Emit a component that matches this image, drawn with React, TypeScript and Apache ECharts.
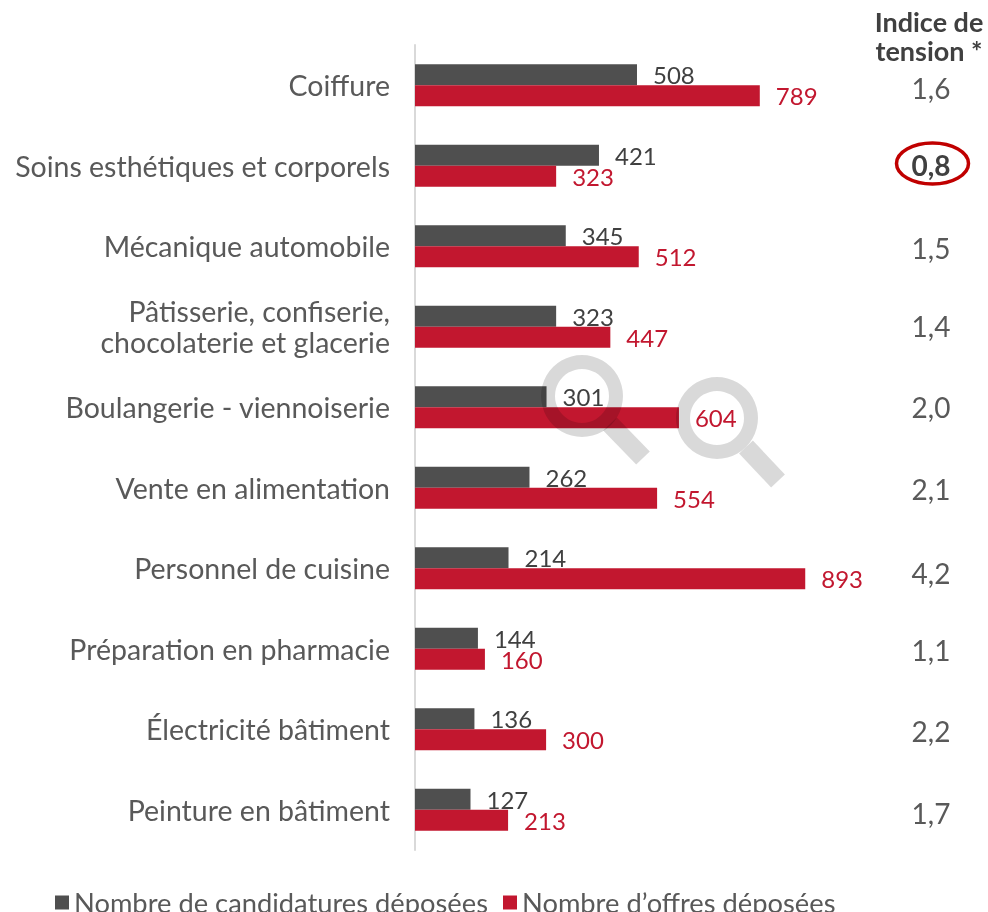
import React, { useEffect, useRef } from "react";
import * as echarts from "echarts";

const categories = [
  "Coiffure",
  "Soins esthétiques et corporels",
  "Mécanique automobile",
  "Pâtisserie, confiserie,\nchocolaterie et glacerie",
  "Boulangerie - viennoiserie",
  "Vente en alimentation",
  "Personnel de cuisine",
  "Préparation en pharmacie",
  "Électricité bâtiment",
  "Peinture en bâtiment",
];
const candidatures = [508, 421, 345, 323, 301, 262, 214, 144, 136, 127];
const offres = [789, 323, 512, 447, 604, 554, 893, 160, 300, 213];
const tension = ["1,6", "0,8", "1,5", "1,4", "2,0", "2,1", "4,2", "1,1", "2,2", "1,7"];
const tensionY = [88, 165, 248, 326, 407, 489, 573, 650, 731, 813];
const FONT = "Lato";
const GREY = "#595959";
const DARK = "#4F4F4F";
const RED = "#C2172F";

function magnifier(cx: number, cy: number, x1: number, y1: number, x2: number, y2: number) {
  const fill = "rgba(0,0,0,0.15)";
  return [
    { type: "ring", z: 20, silent: true, shape: { cx, cy, r: 41, r0: 27 }, style: { fill } },
    { type: "line", z: 20, silent: true, shape: { x1, y1, x2, y2 }, style: { stroke: fill, lineWidth: 19 } },
  ];
}

export default function App() {
  const ref = useRef<HTMLDivElement>(null);
  useEffect(() => {
    const chart = echarts.init(ref.current!, undefined, { renderer: "svg" });
    const label = (color: string) => ({
      show: true,
      position: "right" as const,
      distance: 16,
      color,
      fontFamily: FONT,
      fontSize: 24,
    });
    chart.setOption({
      animation: false,
      grid: { left: 415, top: 45, width: 437, height: 805, containLabel: false },
      xAxis: { type: "value", min: 0, max: 1000, show: false },
      yAxis: {
        type: "category",
        inverse: true,
        data: categories,
        axisLine: { show: true, lineStyle: { color: "#D9D9D9", width: 2 } },
        axisTick: { show: false },
        axisLabel: {
          margin: 25,
          color: GREY,
          fontFamily: FONT,
          fontSize: 28.5,
          lineHeight: 31,
          align: "right",
          padding: [0, 0, 2, 0],
        },
      },
      legend: {
        left: 50,
        top: 884,
        icon: "rect",
        itemWidth: 14,
        itemHeight: 14,
        itemGap: 15,
        textStyle: { color: GREY, fontFamily: FONT, fontSize: 27.3, lineHeight: 20, height: 20 },
        data: ["Nombre de candidatures déposées", "Nombre d’offres déposées"],
      },
      series: [
        {
          name: "Nombre de candidatures déposées",
          type: "bar",
          barWidth: 21,
          barGap: 0,
          data: candidatures,
          itemStyle: { color: DARK },
          label: label("#404040"),
        },
        {
          name: "Nombre d’offres déposées",
          type: "bar",
          barWidth: 21,
          barGap: 0,
          data: offres,
          itemStyle: { color: RED },
          label: label(RED),
        },
      ],
      graphic: [
        ...magnifier(582, 396, 610, 424, 643, 458),
        ...magnifier(717, 418, 746, 447, 778, 481),
        {
          type: "text",
          x: 929,
          y: 36,
          style: {
            text: "Indice de\ntension *",
            fill: "#404040",
            font: `bold 27px ${FONT}`,
            lineHeight: 29,
            align: "center",
            verticalAlign: "middle",
          },
        },
        ...tension.map((t, i) => ({
          type: "text",
          x: 931,
          y: tensionY[i],
          style: {
            text: t,
            fill: i === 1 ? "#404040" : GREY,
            font: `${i === 1 ? "bold " : ""}28px ${FONT}`,
            align: "center",
            verticalAlign: "middle",
          },
        })),
        {
          type: "ellipse",
          shape: { cx: 932.5, cy: 163.5, rx: 36, ry: 20.5 },
          style: { fill: "none", stroke: "#C00000", lineWidth: 3.5 },
        },
      ],
    });
    return () => chart.dispose();
  }, []);
  return <div ref={ref} style={{ position: "fixed", left: 0, top: 0, width: 988, height: 912 }} />;
}
